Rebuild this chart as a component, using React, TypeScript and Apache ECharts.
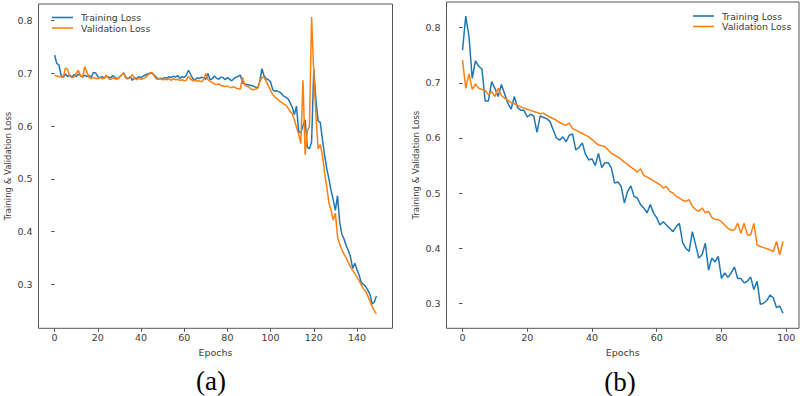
import React, { useEffect, useRef } from "react";
import * as echarts from "echarts";

// ---------- data ----------
const seriesNames = ["Training Loss", "Validation Loss"];
const xTicksA = [0, 20, 40, 60, 80, 100, 120, 140];
const xTicksB = [0, 20, 40, 60, 80, 100];
const yTicks = [0.3, 0.4, 0.5, 0.6, 0.7, 0.8];
const panelLabels = ["(a)", "(b)"];
const yAxisName = "Training & Validation Loss";
const xAxisName = "Epochs";

// (a) 150 epochs
const trainA = [
  0.735, 0.719, 0.716, 0.697, 0.692, 0.699, 0.694, 0.697, 0.693, 0.698,
  0.694, 0.699, 0.696, 0.693, 0.697, 0.694, 0.696, 0.693, 0.702, 0.701,
  0.694, 0.692, 0.694, 0.691, 0.695, 0.693, 0.692, 0.696, 0.692, 0.690,
  0.693, 0.697, 0.701, 0.693, 0.690, 0.694, 0.687, 0.692, 0.690, 0.694,
  0.692, 0.695, 0.697, 0.699, 0.700, 0.701, 0.697, 0.693, 0.689, 0.691,
  0.690, 0.692, 0.691, 0.694, 0.692, 0.695, 0.693, 0.696, 0.691, 0.694,
  0.692, 0.697, 0.706, 0.698, 0.690, 0.687, 0.692, 0.690, 0.693, 0.691,
  0.689, 0.700, 0.688, 0.690, 0.695, 0.691, 0.689, 0.693, 0.692, 0.688,
  0.692, 0.689, 0.686, 0.690, 0.693, 0.694, 0.697, 0.682, 0.680, 0.679,
  0.678, 0.677, 0.676, 0.674, 0.672, 0.685, 0.709, 0.695, 0.690, 0.688,
  0.684, 0.669, 0.666, 0.667, 0.665, 0.662, 0.657, 0.655, 0.652, 0.645,
  0.636, 0.622, 0.638, 0.590, 0.587, 0.601, 0.612, 0.560, 0.557, 0.570,
  0.709, 0.650, 0.610, 0.607, 0.575, 0.545, 0.520, 0.500, 0.478, 0.460,
  0.440, 0.468, 0.418, 0.395, 0.386, 0.373, 0.364, 0.352, 0.330, 0.340,
  0.328, 0.317, 0.303, 0.300, 0.296, 0.289, 0.281, 0.263, 0.266, 0.278,
];
const valA = [
  0.697, 0.695, 0.694, 0.693, 0.692, 0.710, 0.708, 0.695, 0.692, 0.693,
  0.700, 0.706, 0.695, 0.694, 0.713, 0.702, 0.692, 0.690, 0.692, 0.691,
  0.690, 0.692, 0.690, 0.691, 0.697, 0.690, 0.689, 0.691, 0.690, 0.689,
  0.692, 0.697, 0.700, 0.691, 0.690, 0.692, 0.698, 0.690, 0.688, 0.691,
  0.689, 0.690, 0.692, 0.696, 0.701, 0.702, 0.696, 0.690, 0.689, 0.690,
  0.688, 0.689, 0.688, 0.690, 0.687, 0.690, 0.688, 0.689, 0.687, 0.688,
  0.686, 0.687, 0.695, 0.689, 0.686, 0.687, 0.685, 0.686, 0.684, 0.688,
  0.700, 0.688, 0.685, 0.683, 0.680, 0.679, 0.680, 0.677, 0.676, 0.675,
  0.676, 0.674, 0.673, 0.675, 0.672, 0.671, 0.670, 0.693, 0.678, 0.676,
  0.674, 0.670, 0.669, 0.670, 0.672, 0.684, 0.693, 0.692, 0.685, 0.676,
  0.668, 0.660, 0.655, 0.652, 0.648, 0.645, 0.642, 0.640, 0.635, 0.628,
  0.624, 0.612, 0.598, 0.585, 0.567, 0.687, 0.546, 0.590, 0.600, 0.807,
  0.700, 0.620, 0.557, 0.565, 0.545, 0.512, 0.485, 0.455, 0.440, 0.422,
  0.435, 0.390, 0.376, 0.366, 0.357, 0.350, 0.341, 0.333, 0.327, 0.320,
  0.313, 0.307, 0.299, 0.291, 0.287, 0.278, 0.268, 0.258, 0.250, 0.244,
];

// (b) 100 epochs
const trainB = [
  0.759, 0.821, 0.784, 0.708, 0.740, 0.730, 0.725, 0.667, 0.667, 0.702,
  0.690, 0.675, 0.697, 0.680, 0.663, 0.652, 0.675, 0.655, 0.650, 0.650,
  0.638, 0.643, 0.640, 0.610, 0.640, 0.637, 0.635, 0.630, 0.615, 0.600,
  0.596, 0.602, 0.593, 0.605, 0.607, 0.578, 0.583, 0.591, 0.570, 0.560,
  0.562, 0.550, 0.572, 0.546, 0.555, 0.555, 0.545, 0.518, 0.520, 0.512,
  0.482, 0.503, 0.513, 0.494, 0.491, 0.479, 0.473, 0.464, 0.479, 0.464,
  0.455, 0.442, 0.448, 0.442, 0.436, 0.430, 0.439, 0.445, 0.410, 0.400,
  0.394, 0.430, 0.406, 0.382, 0.388, 0.409, 0.360, 0.382, 0.375, 0.385,
  0.345, 0.355, 0.347, 0.355, 0.366, 0.345, 0.345, 0.337, 0.340, 0.348,
  0.325, 0.340, 0.298, 0.300, 0.305, 0.315, 0.310, 0.292, 0.295, 0.282,
];
const valB = [
  0.741, 0.690, 0.716, 0.688, 0.698, 0.690, 0.688, 0.686, 0.678, 0.684,
  0.675, 0.690, 0.677, 0.672, 0.668, 0.664, 0.662, 0.659, 0.656, 0.654,
  0.652, 0.650, 0.648, 0.646, 0.644, 0.645, 0.641, 0.638, 0.635, 0.632,
  0.628, 0.625, 0.623, 0.627, 0.617, 0.614, 0.611, 0.608, 0.605, 0.602,
  0.597, 0.592, 0.587, 0.586, 0.584, 0.578, 0.572, 0.569, 0.565, 0.561,
  0.556, 0.552, 0.547, 0.543, 0.538, 0.544, 0.532, 0.529, 0.526, 0.522,
  0.519, 0.515, 0.509, 0.512, 0.503, 0.500, 0.494, 0.491, 0.487, 0.485,
  0.488, 0.476, 0.470, 0.467, 0.473, 0.464, 0.467, 0.456, 0.452, 0.452,
  0.448, 0.442, 0.436, 0.433, 0.433, 0.445, 0.427, 0.445, 0.424, 0.424,
  0.445, 0.406, 0.403, 0.401, 0.399, 0.397, 0.394, 0.412, 0.388, 0.412,
];

const BLUE = "#1f77b4";
const ORANGE = "#ff7f0e";
const FONT = "DejaVu Sans";
const TEXT = "#3a3a3a";
const FRAME = "#555555";

const toPairs = (arr: number[]) => arr.map((v, i) => [i, v]);

function xAxisCfg(gridIndex: number, min: number, max: number, ticks: number[]) {
  return {
    type: "value",
    gridIndex,
    min,
    max,
    name: xAxisName,
    nameLocation: "middle",
    nameGap: 15,
    nameTextStyle: { fontFamily: FONT, fontSize: 9.5, color: TEXT },
    axisLine: { show: false },
    splitLine: { show: false },
    axisTick: {
      show: true,
      length: 3.5,
      customValues: ticks,
      lineStyle: { color: FRAME, width: 1 },
    },
    axisLabel: {
      customValues: ticks,
      margin: 4,
      fontFamily: FONT,
      fontSize: 9.5,
      color: TEXT,
      formatter: (v: number) => String(v),
    },
  };
}

function yAxisCfg(gridIndex: number, min: number, max: number) {
  return {
    type: "value",
    gridIndex,
    min,
    max,
    name: yAxisName,
    nameLocation: "middle",
    nameGap: 26,
    nameRotate: 90,
    nameTextStyle: { fontFamily: FONT, fontSize: 8.5, color: TEXT },
    axisLine: { show: false },
    splitLine: { show: false },
    axisTick: {
      show: true,
      length: 3.5,
      customValues: yTicks,
      lineStyle: { color: FRAME, width: 1 },
    },
    axisLabel: {
      customValues: yTicks,
      margin: 6,
      fontFamily: FONT,
      fontSize: 9.5,
      color: TEXT,
      formatter: (v: number) => v.toFixed(1),
    },
  };
}

function lineSeries(name: string, data: number[], color: string, idx: number) {
  return {
    type: "line",
    name,
    xAxisIndex: idx,
    yAxisIndex: idx,
    data: toPairs(data),
    symbol: "none",
    showSymbol: false,
    lineStyle: { color, width: 1.5 },
    itemStyle: { color },
    emphasis: { disabled: true },
  };
}

function legendCfg(left: number, top: number) {
  return {
    left,
    top,
    orient: "vertical",
    icon: "rect",
    itemWidth: 21,
    itemHeight: 1.6,
    itemGap: 1.5,
    selectedMode: false,
    data: seriesNames,
    textStyle: {
      fontFamily: FONT,
      fontSize: 9.3,
      color: TEXT,
      padding: [0, 0, 0, 3],
    },
  };
}

export default function App() {
  const ref = useRef<HTMLDivElement>(null);

  useEffect(() => {
    if (!ref.current) return;
    const chart = echarts.init(ref.current, null, { renderer: "svg" });
    chart.setOption({
      animation: false,
      backgroundColor: "#ffffff",
      grid: [
        {
          left: 38.5,
          top: 4,
          width: 354,
          height: 324.3,
          show: true,
          borderColor: FRAME,
          borderWidth: 1,
          backgroundColor: "transparent",
        },
        {
          left: 446.5,
          top: 2,
          width: 352.5,
          height: 326.3,
          show: true,
          borderColor: FRAME,
          borderWidth: 1,
          backgroundColor: "transparent",
        },
      ],
      xAxis: [
        xAxisCfg(0, -7.45, 156.45, xTicksA),
        xAxisCfg(1, -4.95, 103.95, xTicksB),
      ],
      yAxis: [yAxisCfg(0, 0.2165, 0.8317), yAxisCfg(1, 0.2546, 0.8466)],
      legend: [legendCfg(47, 8), legendCfg(688, 6.5)],
      series: [
        lineSeries(seriesNames[0], trainA, BLUE, 0),
        lineSeries(seriesNames[1], valA, ORANGE, 0),
        lineSeries(seriesNames[0], trainB, BLUE, 1),
        lineSeries(seriesNames[1], valB, ORANGE, 1),
      ],
      graphic: [
        {
          type: "text",
          x: 211,
          y: 381,
          style: {
            text: panelLabels[0],
            font: "27px 'Liberation Serif'",
            fill: "#000",
            textAlign: "center",
            textVerticalAlign: "middle",
          },
        },
        {
          type: "text",
          x: 620,
          y: 382,
          style: {
            text: panelLabels[1],
            font: "27px 'Liberation Serif'",
            fill: "#000",
            textAlign: "center",
            textVerticalAlign: "middle",
          },
        },
      ],
    });
    return () => chart.dispose();
  }, []);

  return (
    <div
      ref={ref}
      style={{ position: "fixed", left: 0, top: 0, width: 800, height: 396, background: "#fff" }}
    />
  );
}
